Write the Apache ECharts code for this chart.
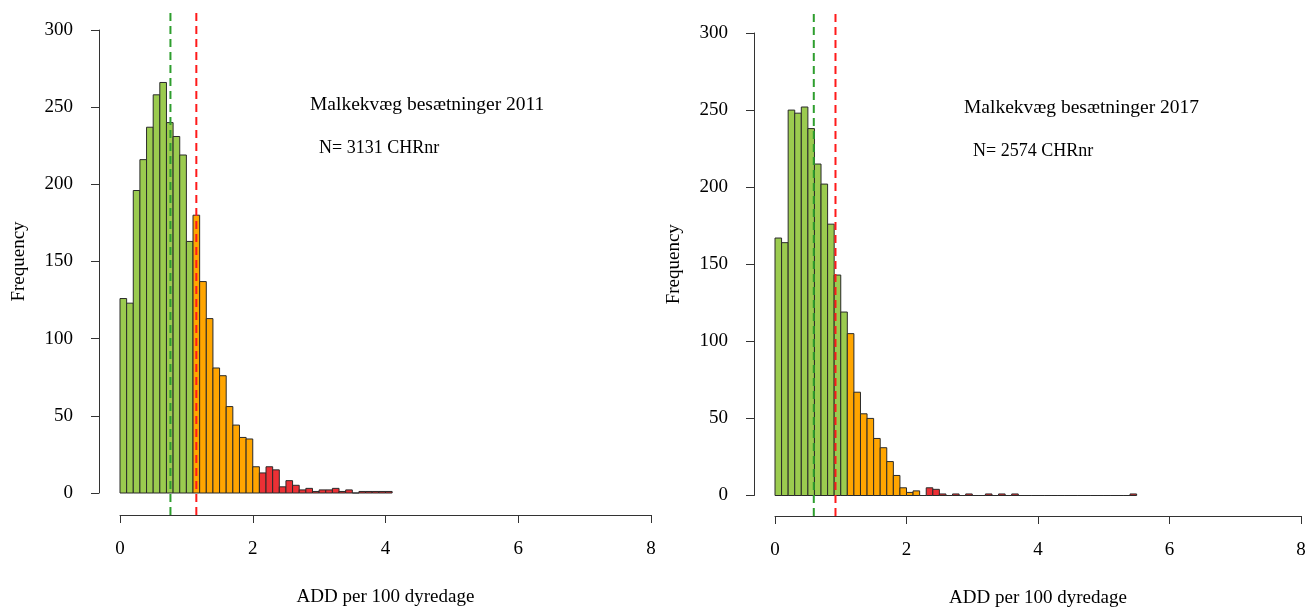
<!DOCTYPE html>
<html>
<head>
<meta charset="utf-8">
<script src="https://cdn.jsdelivr.net/npm/echarts@6/dist/echarts.min.js"></script>
<style>
html,body{margin:0;padding:0;background:#fff;}
#chart{width:1306px;height:608px;}
</style>
</head>
<body>
<div id="chart"></div>
<script>
// ---- data ----
const binWidth = 0.1;
const counts2011 = [126,123,196,216,237,258,266,240,231,219,163,
  180,137,113,81,76,56,44,36,35,17,
  13,17,15,4,8,5,2,3,1,2,2,3,1,2,0,1,1,1,1,1];
const counts2017 = [167,164,250,248,252,238,215,202,176,143,119,
  105,67,53,50,37,31,22,13,5,2,3,
  0,5,4,1,0,1,0,1,0,0,1,0,1,0,1,
  0,0,0,0,0,0,0,0,0,0,0,0,0,0,0,0,0,1];
const breaks2011 = [1.1, 2.1];
const breaks2017 = [1.1, 2.2];
const vlines2011 = [0.76, 1.15];
const vlines2017 = [0.59, 0.92];
const xTicks = [0, 2, 4, 6, 8];
const yTicks = [0, 50, 100, 150, 200, 250, 300];
const titles = ['Malkekvæg besætninger 2011', 'Malkekvæg besætninger 2017'];
const nLabels = ['N= 3131 CHRnr', 'N= 2574 CHRnr'];
const xTitle = 'ADD per 100 dyredage';
const yTitle = 'Frequency';

// ---- styling ----
const FONT = 'Liberation Serif';
const fills = ['#9BCB4F', '#FFA500', '#EC3035'];
const lineColors = ['#2E9E2E', '#FF1A1A'];

function toBins(counts, breaks) {
  return counts.map((c, i) => {
    const s = Math.round(i * binWidth * 10) / 10;
    const e = Math.round((i + 1) * binWidth * 10) / 10;
    const cls = s >= breaks[1] - 1e-9 ? 2 : (s >= breaks[0] - 1e-9 ? 1 : 0);
    return [s, e, c, cls];
  });
}

function renderBar(params, api) {
  const p0 = api.coord([api.value(0), 0]);
  const p1 = api.coord([api.value(1), api.value(2)]);
  return {
    type: 'rect',
    shape: { x: p0[0], y: p1[1], width: p1[0] - p0[0], height: p0[1] - p1[1] },
    style: { fill: fills[api.value(3)], stroke: '#2a2a2a', lineWidth: 1 }
  };
}

const gb = { containLabel: false, outerBoundsMode: 'none' };
const grids = [
  Object.assign({ left: 120, top: 30, width: 531, height: 463 }, gb),   // left visible
  Object.assign({ left: 775, top: 33, width: 526, height: 462.5 }, gb), // right visible
  Object.assign({ left: 120, top: 8, width: 531, height: 507 }, gb),    // left full plot region
  Object.assign({ left: 775, top: 12, width: 526, height: 504 }, gb)    // right full plot region
];

function visX(gi, off) {
  return {
    gridIndex: gi, type: 'value', min: xTicks[0], max: xTicks[xTicks.length - 1],
    interval: xTicks[1] - xTicks[0], offset: off,
    axisLine: { show: true, onZero: false, lineStyle: { color: '#333', width: 1 } },
    axisTick: { show: true, length: 8, lineStyle: { color: '#333' } },
    axisLabel: { margin: 25, fontSize: 19, fontFamily: FONT, color: '#000' },
    splitLine: { show: false },
    name: xTitle, nameLocation: 'middle', nameGap: 73,
    nameTextStyle: { fontSize: 19, fontFamily: FONT, color: '#000' }
  };
}
function visY(gi, off) {
  return {
    gridIndex: gi, type: 'value', min: yTicks[0], max: yTicks[yTicks.length - 1],
    interval: yTicks[1] - yTicks[0], offset: off,
    axisLine: { show: true, onZero: false, lineStyle: { color: '#333', width: 1 } },
    axisTick: { show: true, length: 8, lineStyle: { color: '#333' } },
    axisLabel: { margin: 26, fontSize: 19, fontFamily: FONT, color: '#000' },
    splitLine: { show: false },
    name: yTitle, nameLocation: 'middle', nameGap: 70, nameRotate: 90,
    nameTextStyle: { fontSize: 19, fontFamily: FONT, color: '#000' }
  };
}
function hidX(gi) { return { gridIndex: gi, type: 'value', min: 0, max: 8, show: false }; }
function hidY(gi) { return { gridIndex: gi, type: 'value', min: 0, max: 1, show: false }; }

function vlineSeries(gi, xv, color) {
  return {
    type: 'line', xAxisIndex: gi, yAxisIndex: gi, silent: true,
    data: [[xv, 0], [xv, 1]], symbol: 'none',
    lineStyle: { color: color, width: 2, type: [8, 5] }, z: 5
  };
}

const option = {
  backgroundColor: '#fff',
  animation: false,
  grid: grids,
  xAxis: [visX(0, 22), visX(1, 20.5), hidX(2), hidX(3)],
  yAxis: [visY(0, 21), visY(1, 21), hidY(2), hidY(3)],
  series: [
    { type: 'custom', xAxisIndex: 0, yAxisIndex: 0, renderItem: renderBar,
      data: toBins(counts2011, breaks2011), encode: { x: [0, 1], y: 2 }, z: 2 },
    { type: 'custom', xAxisIndex: 1, yAxisIndex: 1, renderItem: renderBar,
      data: toBins(counts2017, breaks2017), encode: { x: [0, 1], y: 2 }, z: 2 },
    vlineSeries(2, vlines2011[0], lineColors[0]),
    vlineSeries(2, vlines2011[1], lineColors[1]),
    vlineSeries(3, vlines2017[0], lineColors[0]),
    vlineSeries(3, vlines2017[1], lineColors[1])
  ],
  graphic: [
    { type: 'text', left: 310, top: 95, style: { text: titles[0], font: '19.5px "Liberation Serif"', fill: '#000' } },
    { type: 'text', left: 319, top: 139, style: { text: nLabels[0], font: '18px "Liberation Serif"', fill: '#000' } },
    { type: 'text', left: 964, top: 98, style: { text: titles[1], font: '19.5px "Liberation Serif"', fill: '#000' } },
    { type: 'text', left: 973, top: 142, style: { text: nLabels[1], font: '18px "Liberation Serif"', fill: '#000' } }
  ]
};

const chart = echarts.init(document.getElementById('chart'), null, { renderer: 'canvas' });
chart.setOption(option);
</script>
</body>
</html>
